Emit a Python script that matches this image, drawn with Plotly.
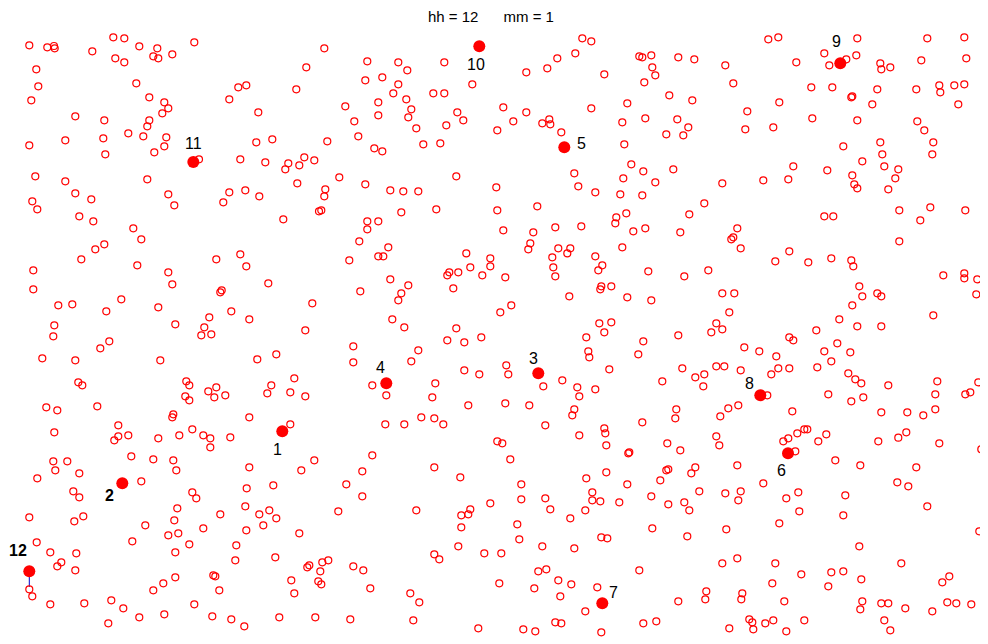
import plotly.graph_objects as go

# Background (open-circle) locations, grouped by area
area_top_left = [(29.3,45.3),(47.3,47.3),(54,46),(54.7,48.3),(92.3,51.3),(113.3,37.3),(124.3,38.3),(139.3,46.3),(157.3,48.3),(172.3,54.3),(194.3,42.3),(153.3,56.3),(158.3,58.3),(115.3,58.3),(124.3,62.3),(36.3,69.3),(38.3,86.3),(136.3,83.3),(31.3,100.3),(149.3,97.3),(164.3,102.3),(168.3,108.3),(162.3,113.3),(238.3,87.3),(246.3,85.3),(229.3,99.3),(75.3,116.3),(104.3,120.3),(149.3,120.3),(147.3,126.3),(128.3,133.3),(143.3,136.3),(166.3,137.3),(103.3,138.3),(65.3,140.3),(29.3,145.3),(164.3,146.3),(154.3,152.3),(105.3,154.3),(199,159.3),(240.3,159.3),(35.3,176.3),(65.3,181.3),(147.3,179.3),(75.3,193.3),(91.3,199.3),(168.3,194.3),(174.3,205.3),(229.3,192.3),(245.3,190.3),(223.3,202.3),(32.3,201.3),(37.3,209.3),(79.3,216.3),(93.3,221.3),(133.3,228.3)]
area_top_midleft = [(324.3,48.3),(367.3,61.3),(398.3,62.3),(407.3,70.3),(444.3,62.3),(306.3,67.3),(365.3,80.3),(382.3,77.3),(398.3,84.3),(472.3,84.3),(296.3,89.3),(393.3,93.3),(406.3,99.3),(433.3,93.3),(444.3,93.3),(378.3,102.3),(345.3,106.3),(258.3,112.3),(411.3,109.3),(378.3,115.3),(408.3,117.3),(457.3,112.3),(463.3,120.3),(354.3,121.3),(446.3,125.3),(416.3,128.3),(358.3,136.3),(256.3,142.3),(272.3,139.3),(327.3,141.3),(374.3,148.3),(382.3,151.3),(423.3,144.3),(440.3,143.3),(265.3,162.3),(288.3,163.3),(285.3,169.3),(299.3,165.3),(304.3,157.3),(314.3,160.3),(339.3,177.3),(297.3,183.3),(365.3,184.3),(456.3,176.3),(325.3,189.3),(324.3,196.3),(259.3,196.3),(390.3,190.3),(403.3,191.3),(418.3,191.3),(319,211.3),(321.3,210.3),(283.3,219.3),(367.3,221.3),(378.3,221.3),(367.3,229.3),(401.3,212.3),(436.3,209.3)]
area_top_midright = [(582.3,38.3),(591.3,41.3),(575.3,53.3),(557.3,58.3),(547.3,68.3),(526.3,72.3),(604.3,74.3),(639.3,56.3),(642.3,57.3),(651.3,55.3),(652.3,67.3),(655.3,75.3),(644.3,82.3),(678.3,57.3),(694.3,59.3),(725.3,65.3),(733.3,83.3),(669.3,95.3),(692.3,100.3),(627.3,103.3),(591.3,108.3),(503.3,107.3),(526.3,112.3),(513.3,121.3),(497.3,130.3),(542.3,123.3),(549.3,119.3),(550.3,124.3),(561.3,132.3),(622.3,122.3),(645.3,118.3),(677.3,119.3),(688.3,127.3),(666.3,134.3),(683.3,135.3),(624.3,144.3),(631.3,164.3),(643.3,171.3),(673.3,169.3),(574.3,173.3),(623.3,178.3),(655.3,182.3),(722.3,183.3),(496.3,187.3),(578.3,186.3),(595.3,192.3),(620.3,194.3),(642.3,195.3),(497.3,210.3),(537.3,206.3),(704.3,203.3),(689.3,214.3),(626.3,213.3),(616.3,217.3),(615.3,223.3),(503.3,230.3),(533.3,232.3),(555.3,227.3),(581.3,226.3),(633.3,231.3),(645.3,228.3),(680.3,232.3),(737.3,228.3)]
area_top_right = [(768.3,39.3),(778.3,37.3),(824.3,53.3),(796.3,62.3),(829.3,65.3),(846.3,59.3),(856.3,55.3),(857.3,38.3),(880.3,63.3),(881.3,69.3),(890.3,67.3),(927.3,38.3),(964.3,37.3),(921.3,60.3),(966.3,58.3),(811.3,87.3),(832.3,87.3),(851.3,97.3),(852.3,96.3),(877.3,89.3),(872.3,104.3),(916.3,89.3),(939.3,85.3),(940.3,92.3),(954.3,85.3),(964.3,84.3),(958.3,104.3),(779.3,102.3),(747.3,111.3),(745.3,129.3),(773.3,127.3),(812.3,118.3),(857.3,120.3),(917.3,121.3),(924.3,130.3),(933.3,142.3),(932.3,154.3),(880.3,142.3),(882.3,154.3),(843.3,146.3),(862.3,161.3),(884.3,166.3),(898.3,169.3),(895.3,178.3),(888.3,189.3),(793.3,166.3),(827.3,170.3),(852.3,175.3),(854.3,184.3),(857.3,188.3),(763.3,180.3),(788.3,179.3),(824.3,216.3),(833.3,216.3),(899.3,210.3),(930.3,207.3),(920.3,220.3),(965.3,210.3)]
area_mid_left = [(141.3,239.3),(104.3,244.3),(95.3,249.3),(81.3,259.3),(33.3,270.3),(33.3,289.3),(137.3,265.3),(168.3,272.3),(172.3,284.3),(216.3,259.3),(240.3,254.3),(246.3,266.3),(220.3,292.3),(221.7,290.3),(231.3,311.3),(209.3,317.3),(204.3,327.3),(201.3,335.3),(211.3,334.3),(58.3,305.3),(72.3,304.3),(106.3,311.3),(121.3,299.3),(158.3,307.3),(175.3,324.3),(54.3,325.3),(53.3,336.3),(109.3,341.3),(100.3,348.3),(42.3,358.3),(75.3,360.3),(160.3,360.3),(78.3,382.3),(82.3,385.3),(186.3,381.3),(189.3,385.3),(208.3,391.3),(216.3,387.3),(225.3,395.3),(185.3,396.3),(189.3,400.3),(214.3,397.3),(46.3,407.3),(57.3,410.3),(97.3,406.3),(173.3,414.3),(172.3,417.3),(54.3,432.3),(118.3,425.3),(192.3,429.3),(118.3,436.3),(128.3,435.3),(179.3,435.3),(203.3,435.3),(230.3,437.3)]
area_mid_midleft = [(359.3,241.3),(388.3,247.3),(378.3,256.3),(383.3,256.3),(349.3,260.3),(268.3,283.3),(312.3,303.3),(249.3,319.3),(305.3,330.3),(390.3,279.3),(408.3,285.3),(360.3,291.3),(401.3,293.3),(398.3,300.3),(392.3,319.3),(404.3,327.3),(466.3,253.3),(490.3,258.3),(490.3,266.3),(470.3,267.3),(482.3,275.3),(458.3,272.3),(449.3,272.3),(447.3,275.3),(453.3,288.3),(456.3,328.3),(447.3,340.3),(464.3,342.3),(481.3,337.3),(353.3,346.3),(353.3,362.3),(276.3,354.3),(257.3,359.3),(418.3,350.3),(411.3,361.3),(464.3,370.3),(479.3,374.3),(294.3,378.3),(271.3,385.3),(267.3,393.3),(290.3,392.3),(305.3,396.3),(372.3,385.3),(386.3,395.3),(435.3,383.3),(432.3,397.3),(468.3,405.3),(249.3,417.3),(290.3,424.3),(385.3,424.3),(404.3,424.3),(421.3,417.3),(434.3,418.3),(443.3,424.3)]
area_mid_midright = [(530.3,243.3),(528.3,249.3),(558.3,248.3),(570.3,248.3),(567.3,253.3),(552.3,257.3),(553.3,267.3),(555.3,276.3),(595.3,256.3),(602.3,265.3),(598.3,270.3),(622.3,247.3),(648.3,271.3),(684.3,276.3),(708.3,270.3),(731.3,239.3),(733.3,237.3),(505.3,277.3),(569.3,296.3),(601.3,286.3),(600.3,289.3),(611.3,286.3),(627.3,297.3),(651.3,300.3),(722.3,293.3),(734.3,293.3),(729.3,312.3),(511.3,305.3),(500.3,312.3),(599.3,323.3),(611.3,322.3),(604.3,332.3),(586.3,337.3),(643.3,341.3),(678.3,335.3),(716.3,323.3),(722.3,329.3),(711.3,332.3),(588.3,351.3),(589.3,357.3),(638.3,354.3),(609.3,369.3),(682.3,368.3),(716.3,366.3),(724.3,366.3),(695.3,377.3),(704.3,374.3),(703.3,386.3),(662.3,381.3),(506.3,365.3),(508.3,374.3),(562.3,380.3),(543.3,386.3),(577.3,387.3),(579.3,396.3),(595.3,389.3),(505.3,403.3),(529.3,405.3),(574.3,409.3),(572.3,415.3),(545.3,425.3),(642.3,422.3),(676.3,409.3),(675.3,418.3),(604.3,428.3),(605.3,433.3),(579.3,435.3),(716.3,436.3),(728.3,408.3),(720.3,416.3),(738.3,405.3)]
area_mid_right = [(740.7,248.3),(789.3,251.3),(775.3,261.3),(808.3,262.3),(831.3,258.3),(851.3,260.3),(853.3,266.3),(899.3,241.3),(943.3,275.3),(964.3,273.3),(964.3,278.3),(977.3,279.3),(976.3,294.3),(859.3,286.3),(862.3,296.3),(877.3,293.3),(881.3,296.3),(852.3,305.3),(839.3,319.3),(816.3,330.3),(857.3,326.3),(881.3,326.3),(933.3,315.3),(789.3,337.3),(793.3,340.3),(744.3,347.3),(759.3,351.3),(776.3,356.3),(837.3,343.3),(824.3,351.3),(850.3,352.3),(831.3,361.3),(740.7,370.3),(778.3,368.3),(789.3,368.3),(771.3,374.3),(817.3,367.3),(848.3,373.3),(855.3,379.3),(861.3,383.3),(888.3,385.3),(937.3,381.3),(978.3,382.3),(767.3,395.3),(828.3,394.3),(851.3,401.3),(863.3,397.3),(935.3,394.3),(965.3,394.3),(970.3,392.3),(792.3,411.3),(881.3,412.3),(907.3,412.3),(923.3,415.3),(935.3,409.3),(804.3,429.3),(807.3,429.3),(797.3,433.3),(826.3,434.3),(906.3,432.3)]
area_low_left = [(114.3,440.3),(158.3,438.3),(210.3,438.3),(210.3,447.3),(131.3,456.3),(153.3,459.3),(173.3,460.3),(176.3,470.3),(53.3,461.3),(67.3,461.3),(55.3,470.3),(79.3,473.3),(37.3,478.3),(141.3,481.3),(73.3,491.3),(79.3,497.3),(192.3,492.3),(196.3,498.3),(177.3,508.3),(174.3,520.3),(220.3,514.3),(29.3,517.3),(74.3,521.3),(83.3,516.3),(145.3,525.3),(168.3,535.3),(178.3,533.3),(203.3,528.3),(245.3,506.3),(246.3,530.3),(236.3,545.3),(235.3,560.3),(132.3,541.3),(189.3,544.3),(175.3,552.3),(36.7,542.3),(50.3,552.3),(76.3,553.3),(57.3,566.3),(61.3,562.3),(75.3,570.3),(213.3,575.3),(215.3,576.3),(219.3,590.3),(175.3,577.3),(163.3,583.3),(153.3,590.3),(29.3,589.3),(32.3,596.3),(50.3,604.3),(84.3,603.3),(111.3,600.3),(123.3,608.3),(139.3,617.3),(164.3,614.3),(194.3,604.3),(212.3,616.3),(231.3,619.3),(244.3,626.3),(108.3,623.3),(246.7,488.3)]
area_low_midleft = [(372.3,455.3),(314.3,460.3),(249.3,467.3),(301.3,470.3),(362.3,471.3),(273.3,485.3),(346.3,484.3),(362.3,496.3),(434.3,467.3),(460.3,477.3),(490.3,503.3),(416.3,510.3),(470.3,509.3),(461.3,515.3),(468.3,514.3),(461.3,527.3),(458.3,546.3),(434.3,554.3),(439.3,559.3),(484.3,553.3),(259.3,514.3),(269.3,510.3),(276.3,518.3),(263.3,525.3),(338.3,511.3),(299.3,533.3),(275.3,557.3),(309.3,565.3),(307.3,567.3),(322.3,562.3),(328.3,560.3),(320.3,571.3),(353.3,566.3),(363.3,570.3),(318.3,581.3),(321.3,584.3),(291.3,580.3),(294.3,593.3),(370.3,588.3),(410.3,593.3),(419.3,602.3),(279.3,617.3),(315.3,617.3),(350.3,619.3),(413.3,620.3),(478.3,628.3)]
area_low_midright = [(497.3,441.3),(502.3,443.3),(606.3,445.3),(629.3,452.3),(628.3,453.3),(667.3,443.3),(680.3,450.3),(719.3,445.3),(510.3,459.3),(586.3,478.3),(606.3,472.3),(627.3,484.3),(521.3,484.3),(521.3,499.3),(545.3,498.3),(550.3,509.3),(592.3,492.3),(592.3,500.3),(600.3,501.3),(619.3,502.3),(585.3,510.3),(570.3,518.3),(651.3,496.3),(660.3,480.3),(666.3,470.3),(668.3,469.3),(691.3,473.3),(695.3,467.3),(737.3,465.3),(699.3,491.3),(725.3,493.3),(738.3,500.3),(668.3,504.3),(684.3,502.3),(689.3,510.3),(517.3,524.3),(519.3,539.3),(542.3,546.3),(501.3,553.3),(574.3,548.3),(601.3,537.3),(607.3,538.3),(652.3,528.3),(687.3,536.3),(726.3,529.3),(737.3,558.3),(722.3,563.3),(639.3,570.3),(538.3,571.3),(546.3,569.3),(499.3,583.3),(534.3,588.3),(558.3,580.3),(571.3,584.3),(560.3,596.3),(597.3,587.3),(585.3,611.3),(555.3,622.3),(561.3,623.3),(523.3,629.3),(535.3,631.3),(601.3,632.3),(643.3,623.3),(656.3,621.3),(678.3,601.3),(706.3,591.3),(705.3,599.3),(729.3,628.3)]
area_low_right = [(783.3,441.3),(788.3,438.3),(795.3,451.3),(818.3,441.3),(878.3,441.3),(898.3,437.7),(939.3,443.3),(981.3,449.3),(835.3,460.3),(860.3,465.3),(916.3,467.3),(897.3,482.3),(908.3,486.3),(927.3,506.3),(979.3,531.3),(763.3,483.3),(786.3,498.3),(798.3,492.3),(740.7,491.3),(799.3,511.3),(845.3,495.3),(843.3,515.3),(779.3,523.3),(859.3,546.3),(901.3,563.3),(775.3,563.3),(801.3,574.3),(831.3,572.3),(843.3,571.3),(772.3,583.3),(828.3,586.3),(861.3,579.3),(942.3,582.3),(949.3,576.3),(742.3,593.3),(741.3,599.3),(784.3,601.3),(862.3,601.3),(860.3,609.3),(881.3,603.3),(888.3,603.3),(905.3,608.3),(932.3,611.3),(947.3,602.3),(956.3,603.3),(971.3,604.3),(749.3,619.3),(752.3,622.3),(753.3,629.3),(765.3,623.3),(773.3,620.3),(804.3,620.3),(786.3,631.3),(884.3,620.3),(890.3,630.3)]

# Labelled (filled) points
label_names = ["1", "2", "3", "4", "5", "6", "7", "8", "9", "10", "11", "12"]
label_x = [282.3, 122.3, 538.3, 386.3, 564.3, 788.0, 602.3, 760.3, 840.3, 479.3, 193.3, 29.3]
label_y = [431.3, 483.3, 373.3, 383.3, 147.3, 453.3, 603.3, 395.3, 63.3, 46.3, 162.0, 571.3]
label_bold = [False, True, False, False, False, False, False, False, False, False, False, True]
# text placement relative to each point, in screen pixels (dx right, dy down)
label_dx = [-5, -13, -5, -6, 17, -7, 11, -11, -4, -3, 0, -11]
label_dy = [18, 12, -15, -16, -4, 17, -11, -12, -22, 18, -19, -21]

# short segment hanging below point 12
seg_end_y = 587.0

title_text = "hh = 12&nbsp;&nbsp;&nbsp;&nbsp;&nbsp;&nbsp;mm = 1"

areas = [area_top_left, area_top_midleft, area_top_midright, area_top_right,
         area_mid_left, area_mid_midleft, area_mid_midright, area_mid_right,
         area_low_left, area_low_midleft, area_low_midright, area_low_right]
bx = [p[0] for a in areas for p in a]
by = [p[1] for a in areas for p in a]

# The page body has an 8px margin, so the figure covers window pixels 8..988 x 8..644
PAGE_OFFSET = 8
W, H = 988, 644

fig = go.Figure()
fig.add_trace(go.Scatter(x=[label_x[11], label_x[11]], y=[label_y[11], seg_end_y], mode="lines",
                         line=dict(color="#0000cc", width=1), hoverinfo="skip", showlegend=False))
fig.add_trace(go.Scatter(x=bx, y=by, mode="markers",
                         marker=dict(symbol="circle-open", size=7, color="red", line=dict(width=1.2)),
                         showlegend=False, cliponaxis=False))
fig.add_trace(go.Scatter(x=label_x, y=label_y, mode="markers",
                         marker=dict(symbol="circle", size=12, color="red"),
                         showlegend=False, cliponaxis=False))

for n, x, y, b, dx, dy in zip(label_names, label_x, label_y, label_bold, label_dx, label_dy):
    fig.add_annotation(x=x, y=y, xref="x", yref="y", text=f"<b>{n}</b>" if b else n,
                       showarrow=False, xshift=dx, yshift=-dy,
                       font=dict(family="Liberation Sans, Arial, sans-serif", size=16, color="black"))

fig.add_annotation(x=491, y=16, xref="x", yref="y", yanchor="middle",
                   text=title_text, showarrow=False,
                   font=dict(family="Liberation Sans, Arial, sans-serif", size=15, color="black"))

fig.update_layout(width=W - PAGE_OFFSET, height=H - PAGE_OFFSET, margin=dict(l=0, r=0, t=0, b=0),
                  plot_bgcolor="white", paper_bgcolor="white",
                  xaxis=dict(range=[PAGE_OFFSET, W], visible=False, fixedrange=True),
                  yaxis=dict(range=[H, PAGE_OFFSET], visible=False, fixedrange=True))
fig.write_html("out.html")
